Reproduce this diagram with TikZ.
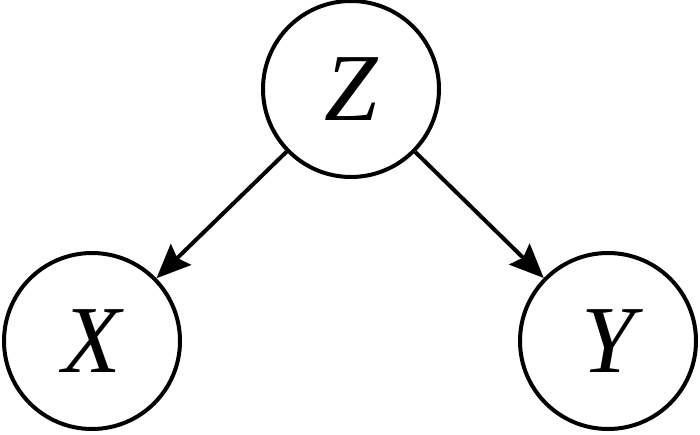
\documentclass[tikz,border=0pt]{standalone}
\usepackage{fontspec}
\setmainfont{Liberation Serif}
\usetikzlibrary{arrows.meta}
\begin{document}
\begin{tikzpicture}[x=1pt,y=-1pt,
  var/.style={circle,draw,line width=4pt,minimum size=176pt,inner sep=0pt,font=\fontsize{96}{96}\selectfont\itshape},
  edge/.style={line width=4pt,-{Stealth[length=34pt,width=29pt,inset=5pt]}}]
\useasboundingbox (0,0) rectangle (700,435);
\node[var] (z) at (351,89) {Z};
\node[var] (x) at (92,341) {X};
\node[var] (y) at (608,341) {Y};
\draw[edge] (z) -- (x);
\draw[edge] (z) -- (y);
\end{tikzpicture}
\end{document}
